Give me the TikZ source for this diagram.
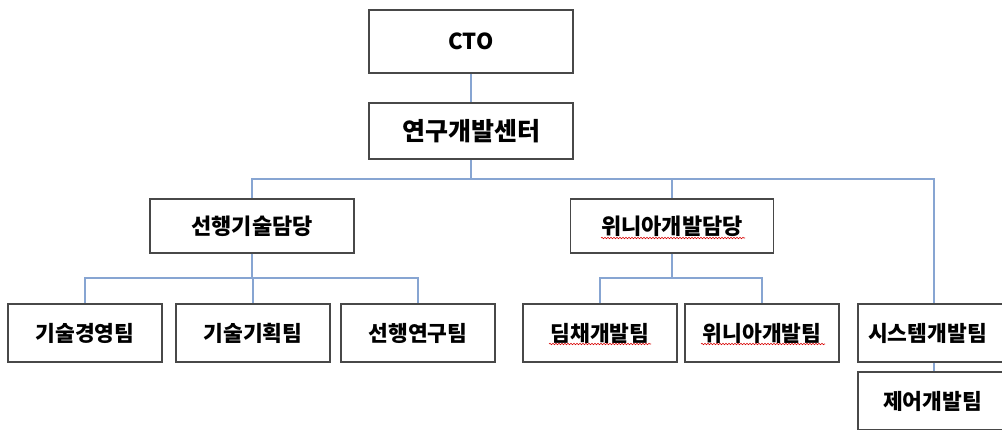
\documentclass[tikz,border=0pt]{standalone}
\usepackage{fontspec}
\setmainfont{Noto Sans CJK KR}
\usetikzlibrary{decorations.pathmorphing}
\definecolor{lnk}{RGB}{135,165,210}
\definecolor{frm}{RGB}{72,72,72}
\tikzstyle{bx}=[rectangle,draw=frm,line width=1.8pt,fill=white,inner sep=0pt,font=\bfseries\fontsize{21.5}{25}\selectfont,minimum width=154pt,minimum height=58pt]
\tikzstyle{ln}=[draw=lnk,line width=1.4pt]
\tikzstyle{wv}=[red!85!black,line width=0.6pt,decorate,decoration={snake,amplitude=0.7pt,segment length=3pt}]

\begin{document}
\begin{tikzpicture}[x=1pt,y=-1pt]
\useasboundingbox (0,0) rectangle (1002,429);
\coordinate (bus) at (0,179);
\coordinate (bus2) at (0,278);
\draw[ln] (471,41) -- (471,131);
\draw[ln] (471,131) -- (471,179);
\node[bx,minimum width=204pt,minimum height=63pt,font=\bfseries\fontsize{22}{26}\selectfont] (cto) at (471,41.5) {CTO};
\node[bx,minimum width=204pt,minimum height=56pt,font=\bfseries\fontsize{25}{29}\selectfont] (rnd) at (471,131) {연구개발센터};
\node[bx,minimum width=204pt,minimum height=54pt,font=\bfseries\fontsize{22}{26}\selectfont] (adv) at (252,226) {선행기술담당};
\node[bx,minimum width=203pt,minimum height=54pt,font=\bfseries\fontsize{22}{26}\selectfont] (win) at (672,226) {위니아개발담당};
\node[bx] (mgt) at (85,333) {기술경영팀};
\node[bx] (pln) at (253,333) {기술기획팀};
\node[bx] (res) at (418,333) {선행연구팀};
\node[bx] (dim) at (600,333) {딤채개발팀};
\node[bx] (wdv) at (762,333) {위니아개발팀};
\node[bx,minimum width=152pt] (sys) at (934,333) {\hspace{-13pt}시스템개발팀};
\node[bx,minimum width=152pt] (ctl) at (934,401) {\hspace{-3pt}제어개발팀};
\draw[ln] (adv.north) |- (sys.north |- bus) -- (sys.north);
\draw[ln] (win.north) -- (win.north |- bus);
\draw[ln] (adv.south) -- (adv.south |- bus2);
\draw[ln] (mgt.north) |- (res.north |- bus2) -- (res.north);
\draw[ln] (pln.north) -- (pln.north |- bus2);
\draw[ln] (win.south) -- (win.south |- bus2);
\draw[ln] (dim.north) |- (wdv.north |- bus2) -- (wdv.north);
\draw[ln] (sys) -- (ctl);
\draw[wv] ([shift={(-71,12)}]win.center) -- ([shift={(73,12)}]win.center);
\draw[wv] ([shift={(-51,11)}]dim.center) -- ([shift={(51,11)}]dim.center);
\draw[wv] ([shift={(-61,11)}]wdv.center) -- ([shift={(63,11)}]wdv.center);
\end{tikzpicture}
\end{document}
